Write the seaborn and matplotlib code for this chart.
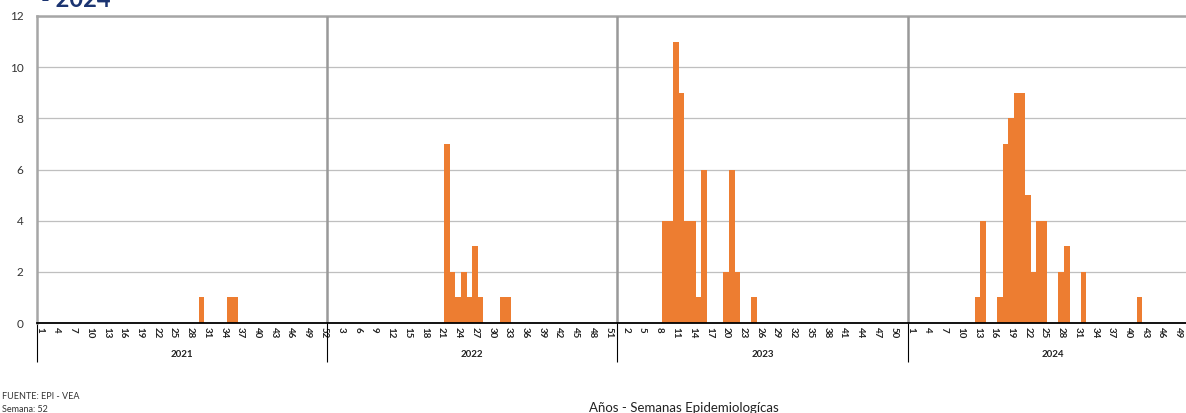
import pandas as pd
import matplotlib
matplotlib.use('Agg')
import matplotlib.pyplot as plt
import seaborn as sns

sns.set_style('white')
plt.rcParams['font.family'] = ['Lato', 'DejaVu Sans']

# casos por semana epidemiologica (solo semanas con casos, el resto es 0)
anios = [2021, 2022, 2023, 2024]
semanas_por_anio = [52, 52, 52, 52]
casos_2021 = {30: 1, 35: 1, 36: 1}
casos_2022 = {22: 7, 23: 2, 24: 1, 25: 2, 26: 1, 27: 3, 28: 1, 32: 1, 33: 1}
casos_2023 = {9: 4, 10: 4, 11: 11, 12: 9, 13: 4, 14: 4, 15: 1, 16: 6,
              20: 2, 21: 6, 22: 2, 25: 1}
casos_2024 = {13: 1, 14: 4, 17: 1, 18: 7, 19: 8, 20: 9, 21: 9, 22: 5, 23: 2,
              24: 4, 25: 4, 28: 2, 29: 3, 32: 2, 42: 1}
casos = [casos_2021, casos_2022, casos_2023, casos_2024]

filas = []
for anio, n_sem, c in zip(anios, semanas_por_anio, casos):
    for s in range(1, n_sem + 1):
        filas.append({'anio': anio, 'semana': s, 'cat': f'{anio}-{s}', 'casos': c.get(s, 0)})
df = pd.DataFrame(filas)
N = len(df)

fig = plt.figure(figsize=(11.86, 4.13), dpi=100)
ax = fig.add_axes([36.7 / 1186, 90 / 413, (1198 - 36.7) / 1186, 307 / 413])

sns.barplot(data=df, x='cat', y='casos', order=df['cat'].tolist(), color='#ED7D31',
            saturation=1, width=1, edgecolor='none', ax=ax, zorder=2)

ax.set_xlim(-0.5, N - 0.5)
ax.set_ylim(0, 12)
ax.set_yticks(range(0, 13, 2))
ax.yaxis.grid(True, color='#bfbfbf', lw=0.9)
ax.set_axisbelow(True)

ax.set_xticks(range(0, N, 3))
ax.set_xticklabels(df['semana'].iloc[::3].tolist(), rotation=270, fontsize=7,
                   fontweight='bold', color='#222222')
ax.tick_params(axis='x', length=0, pad=3)
ax.tick_params(axis='y', length=3.5, width=0.8, color='#999999', pad=6,
               labelsize=8.5, labelcolor='#333333')
ax.set_xlabel('')
ax.set_ylabel('')

for lado in ['top', 'left', 'right']:
    ax.spines[lado].set_color('#a6a6a6')
    ax.spines[lado].set_linewidth(1.8)
ax.spines['bottom'].set_color('black')
ax.spines['bottom'].set_linewidth(1.3)
ax.spines['bottom'].set_zorder(4)

# separadores entre anios
limites = [sum(semanas_por_anio[:i + 1]) - 0.5 for i in range(len(anios) - 1)]
ax.vlines(limites, 0, 12, color='#999999', lw=1.8, zorder=3)
ax.vlines([-0.5] + limites, -0.127, 0, transform=ax.get_xaxis_transform(),
          clip_on=False, color='black', lw=0.8)

inicio = 0
for anio, n_sem in zip(anios, semanas_por_anio):
    ax.text(inicio + n_sem / 2 - 0.5, -0.101, str(anio), transform=ax.get_xaxis_transform(),
            ha='center', va='center', fontsize=7, fontweight='bold', color='#222222')
    inicio += n_sem

fig.text(41 / 1186, 1 - 6.7 / 413, '- 2024', fontsize=17, fontweight='bold',
         color='#1B3471', va='baseline', ha='left')
fig.text(2 / 1186, 1 - 399 / 413, 'FUENTE: EPI - VEA', fontsize=6.5, color='#333333',
         va='baseline', ha='left')
fig.text(2 / 1186, 1 - 412 / 413, 'Semana: 52', fontsize=6.5, color='#333333',
         va='baseline', ha='left')
fig.text(684 / 1186, 1 - 412 / 413, 'Años - Semanas Epidemiologícas', fontsize=9.5,
         color='#222222', va='baseline', ha='center')

plt.savefig('out.png', dpi=100)
